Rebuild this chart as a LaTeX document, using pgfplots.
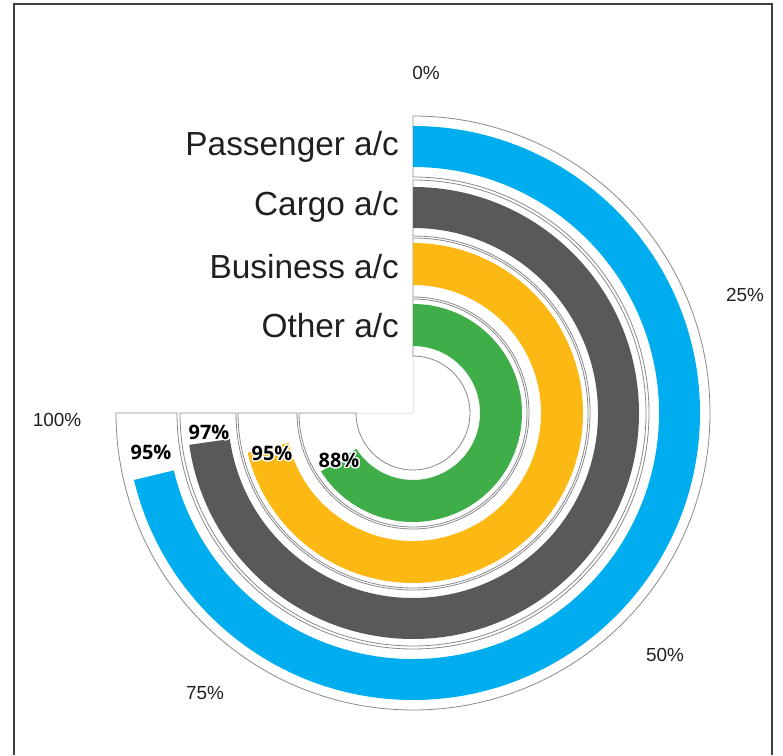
\documentclass[border=0pt]{standalone}
\usepackage{pgfplots}
\pgfplotsset{compat=1.18}
\usepackage{pgfplotstable}
\usepackage{fontspec}
\setmainfont{Liberation Sans}
\newfontfamily\valfont{Open Sans}
\usepackage{contour}
\contourlength{1.3pt}
\contournumber{24}

\definecolor{cBlue}{HTML}{00AEEF}
\definecolor{cGray}{HTML}{58595B}
\definecolor{cYellow}{HTML}{FDB913}
\definecolor{cGreen}{HTML}{3FAE49}
\definecolor{track}{HTML}{8A8A8A}
\definecolor{txt}{HTML}{231F20}

% value = percentage; tin/tout = track radii; bin/bout = bar radii; lx/ly = label position
\pgfplotstableread{
name value tin tout bin bout lx ly
Passenger 95 236 297 246 287 -262 -40
Cargo 97 177 233 185 226 -204 -20
Business 95 116 175 128 170 -141 -41
Other 88 57 114 67 109 -74 -48
}\radialdata

\newcommand\getval[3]{\pgfplotstablegetelem{#1}{#2}\of\radialdata\expandafter\xdef\csname #3\endcsname{\pgfplotsretval}}
\newcommand\getrow[2]{%
  \getval{#1}{value}{val#2}\getval{#1}{tin}{tin#2}\getval{#1}{tout}{tout#2}%
  \getval{#1}{bin}{bin#2}\getval{#1}{bout}{bout#2}\getval{#1}{lx}{lx#2}\getval{#1}{ly}{ly#2}}
\newcommand\radialtrack[1]{%
  \draw[track, line width=0.8bp, fill=white]
    (axis cs:0,\csname tin#1\endcsname) -- (axis cs:0,\csname tout#1\endcsname)
    arc[start angle=90, end angle=-180, radius=\csname tout#1\endcsname bp]
    -- (axis cs:-\csname tin#1\endcsname,0)
    arc[start angle=-180, end angle=90, radius=\csname tin#1\endcsname bp] -- cycle;}
\newcommand\radialbar[2]{%
  \fill[#2]
    (axis cs:0,\csname bin#1\endcsname) -- (axis cs:0,\csname bout#1\endcsname)
    arc[start angle=90, end angle={90-2.7*\csname val#1\endcsname}, radius=\csname bout#1\endcsname bp]
    -- (axis cs:{\csname bin#1\endcsname*cos(90-2.7*\csname val#1\endcsname)},{\csname bin#1\endcsname*sin(90-2.7*\csname val#1\endcsname)})
    arc[start angle={90-2.7*\csname val#1\endcsname}, end angle=90, radius=\csname bin#1\endcsname bp] -- cycle;
  \node[font=\valfont\bfseries\fontsize{20}{20}\selectfont, text=black, inner sep=0pt]
    at (axis cs:\csname lx#1\endcsname,\csname ly#1\endcsname) {\contour{white}{\csname val#1\endcsname\%}};}

\begin{document}
\begin{tikzpicture}
\getrow{0}{A}\getrow{1}{B}\getrow{2}{C}\getrow{3}{D}
\begin{axis}[
  hide axis, scale only axis, width=783bp, height=755bp,
  xmin=-413, xmax=370, ymin=-342, ymax=413, clip=false]
\path (axis cs:-413,-342) rectangle (axis cs:370,413);
% frame
\draw[line width=1.3bp, black!75] (axis cs:-399,-342) -- (axis cs:-399,409) -- (axis cs:359,409) -- (axis cs:359,-342);
% faint guide lines
\draw[black!10, line width=0.6bp] (axis cs:0,0) -- (axis cs:0,57);
\draw[black!10, line width=0.6bp] (axis cs:-57,0) -- (axis cs:0,0);
% tracks
\radialtrack{A}\radialtrack{B}\radialtrack{C}\radialtrack{D}
% bars
\radialbar{A}{cBlue}\radialbar{B}{cGray}\radialbar{C}{cYellow}\radialbar{D}{cGreen}
% category labels
\begin{scope}[every node/.style={anchor=east, inner sep=0pt, text=txt, font=\fontsize{33.5}{33.5}\selectfont}]
\node at (axis cs:-14,266) {Passenger a/c};
\node at (axis cs:-14,206) {Cargo a/c};
\node at (axis cs:-14,146) {Business a/c};
\node at (axis cs:-14,87) {Other a/c};
\end{scope}
% scale labels
\begin{scope}[every node/.style={inner sep=0pt, text=txt, font=\fontsize{19}{19}\selectfont}]
\node at (axis cs:13,340) {0\%};
\node at (axis cs:332,118) {25\%};
\node at (axis cs:252,-242) {50\%};
\node at (axis cs:-208,-280) {75\%};
\node at (axis cs:-356,-7) {100\%};
\end{scope}
\end{axis}
\end{tikzpicture}
\end{document}
